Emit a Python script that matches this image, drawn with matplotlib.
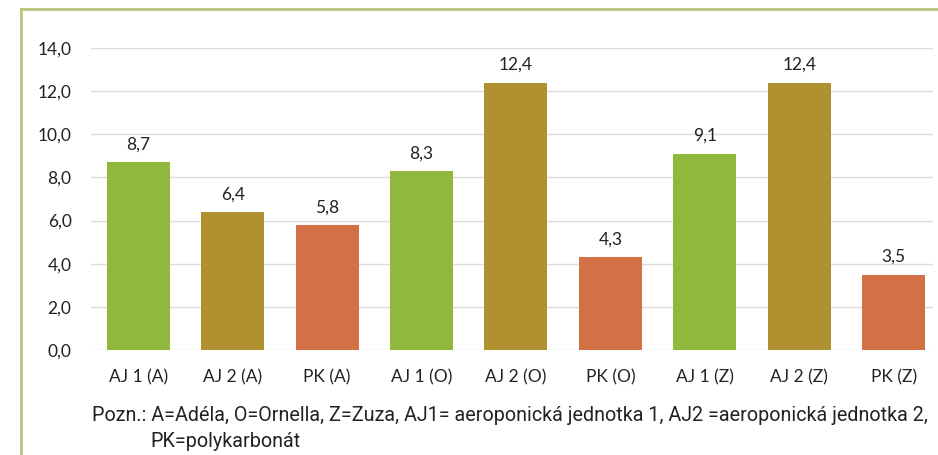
import matplotlib.pyplot as plt
from matplotlib.lines import Line2D

DPI = 100

categories = ['AJ 1 (A)', 'AJ 2 (A)', 'PK (A)', 'AJ 1 (O)', 'AJ 2 (O)', 'PK (O)',
              'AJ 1 (Z)', 'AJ 2 (Z)', 'PK (Z)']
values = [8.7, 6.4, 5.8, 8.3, 12.4, 4.3, 9.1, 12.4, 3.5]
yticks = [0, 2, 4, 6, 8, 10, 12, 14]
note1 = ('Pozn.: A=Adéla, O=Ornella, Z=Zuza, AJ1= aeroponická jednotka 1, '
         'AJ2 =aeroponická jednotka 2,')
note2 = 'PK=polykarbonát'

green, olive, orange = '#8fb83d', '#af922f', '#d47046'
colors = [green, olive, orange] * 3

fig = plt.figure(figsize=(938 / DPI, 455 / DPI), dpi=DPI)
ax = fig.add_axes([91 / 938, 1 - 350 / 455, (933 - 91) / 938, 302 / 455])

x = range(len(categories))
ax.bar(x, values, width=0.667, color=colors, zorder=2)
for i, v in enumerate(values):
    ax.annotate(f'{v:.1f}'.replace('.', ','), (i, v), xytext=(0, 7),
                textcoords='offset points', ha='center', va='bottom',
                fontsize=12.5, family='Lato', color='#222222')

ax.set_xlim(-0.5, (933 - 138.5) / 94.4)
ax.set_ylim(0, 14)
ax.set_yticks(yticks)
ax.set_yticklabels([f'{t:.1f}'.replace('.', ',') for t in yticks])
ax.set_xticks(list(x))
ax.set_xticklabels(categories)
ax.tick_params(length=0, labelsize=12.5, colors='#222222')
ax.tick_params(axis='y', pad=14)
ax.tick_params(axis='x', pad=14)
for lab in ax.get_xticklabels() + ax.get_yticklabels():
    lab.set_family('Lato')
ax.grid(axis='y', color='#dcdcdc', linewidth=1, zorder=0)
for s in ax.spines.values():
    s.set_visible(False)

# footnote
fig.text(92 / 938, 1 - 421 / 455, note1, fontsize=14.2, family='Roboto',
         color='#222222', va='baseline')
fig.text(150 / 938, 1 - 447 / 455, note2, fontsize=14.2, family='Roboto',
         color='#222222', va='baseline')

# frame lines at left and top
fig.add_artist(Line2D([21 / 938, 21 / 938], [0, 1 - 9 / 455], color='#b9c47e', lw=2))
fig.add_artist(Line2D([21 / 938, 1], [1 - 9 / 455, 1 - 9 / 455], color='#b9c47e', lw=2))

plt.savefig('out.png', dpi=DPI)
